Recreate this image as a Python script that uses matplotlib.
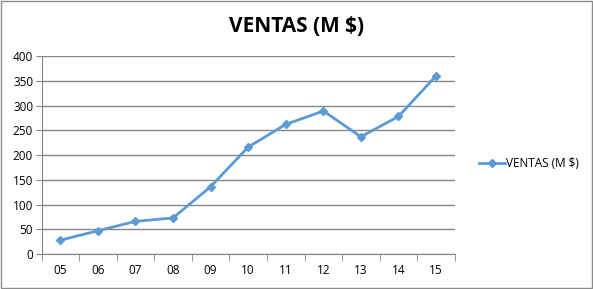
import matplotlib.pyplot as plt
from matplotlib.patches import Rectangle

# Datos del gráfico
years = ["05", "06", "07", "08", "09", "10", "11", "12", "13", "14", "15"]
sales = [28, 47, 66, 73, 136, 216, 262, 289, 237, 278, 360]
y_ticks = [0, 50, 100, 150, 200, 250, 300, 350, 400]

LINE_COLOR = "#5B9AD5"
GRID_COLOR = "#868686"

plt.rcParams["font.family"] = ["Open Sans", "DejaVu Sans"]

fig = plt.figure(figsize=(5.93, 2.89), dpi=100)
ax = fig.add_axes([0.070, 0.121, 0.697, 0.685])

x = list(range(len(years)))
ax.plot(x, sales, color=LINE_COLOR, linewidth=2, marker="D", markersize=4.5,
        label="VENTAS (M $)")

ax.set_xlim(-0.5, len(years) - 0.5)
ax.set_ylim(0, 400)
ax.set_yticks(y_ticks)
ax.set_xticks(x)
ax.set_xticklabels(years)
ax.set_xticks([i - 0.5 for i in range(len(years) + 1)], minor=True)
ax.tick_params(axis="x", which="major", length=0, labelsize=8.5, pad=7)
ax.tick_params(axis="x", which="minor", length=5, color=GRID_COLOR, direction="out")
ax.tick_params(axis="y", length=4, color=GRID_COLOR, labelsize=8.5, pad=2)

ax.grid(axis="y", color=GRID_COLOR, linewidth=1)
ax.set_axisbelow(True)
for side in ["top", "right"]:
    ax.spines[side].set_visible(False)
for side in ["left", "bottom"]:
    ax.spines[side].set_color(GRID_COLOR)

fig.suptitle("VENTAS (M $)", x=0.5, y=0.945, fontsize=15, fontweight="bold")

fig.legend(loc="center left", bbox_to_anchor=(0.79, 0.435), frameon=False,
           fontsize=8.5, handlelength=2.2, handletextpad=0.1)

# Marco exterior del gráfico
fig.patches.append(Rectangle((0.001, 0.002), 0.997, 0.995, transform=fig.transFigure,
                             fill=False, edgecolor="#8c8c8c", linewidth=1))

fig.savefig("out.png", dpi=100)
plt.close(fig)
